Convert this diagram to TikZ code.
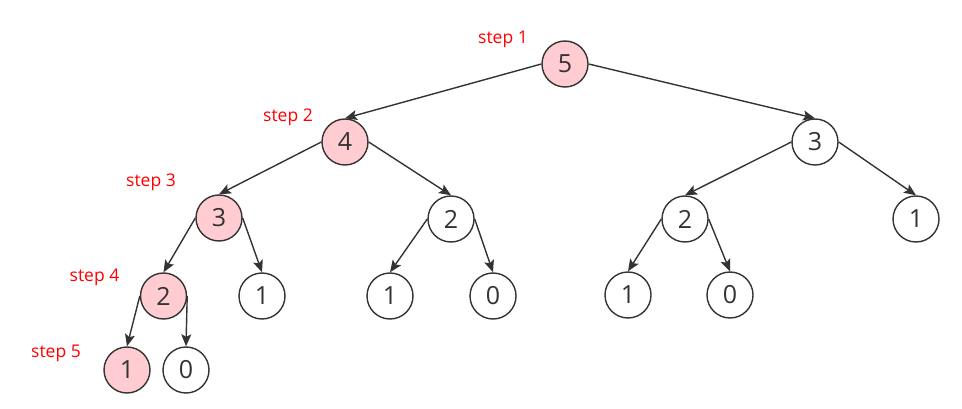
\documentclass[tikz,border=0pt]{standalone}
\usepackage{fontspec}
\setmainfont{Open Sans}
\usetikzlibrary{arrows.meta}
\definecolor{pinkfill}{HTML}{FFCCD2}
\definecolor{stroke}{HTML}{333333}
\definecolor{stepred}{HTML}{FF0000}
\tikzset{
  treenode/.style={circle, draw=stroke, line width=1.4pt, minimum size=46pt, inner sep=0pt, fill=white, text=stroke, font=\fontsize{25}{25}\selectfont},
  hot/.style={treenode, fill=pinkfill},
  edge/.style={draw=stroke, line width=1.4pt, -{Stealth[length=12pt,width=10pt,inset=2.5pt]}},
  steplabel/.style={anchor=base, text=stepred, font=\fontsize{17.5}{17.5}\selectfont, inner sep=0pt}
}
\begin{document}
\begin{tikzpicture}[x=1pt,y=-1pt]
\useasboundingbox (0,0) rectangle (962,409);
% nodes
\node[hot] (n5) at (565,64) {5};
\node[hot] (n4) at (345,142) {4};
\node[treenode] (n3r) at (815,142) {3};
\node[hot] (n3l) at (219,218) {3};
\node[treenode] (n2m) at (451,219) {2};
\node[treenode] (n2r) at (685,219) {2};
\node[treenode] (n1r) at (916,219) {1};
\node[hot] (n2l) at (163.5,296) {2};
\node[treenode] (n1a) at (262,296) {1};
\node[treenode] (n1b) at (390,296) {1};
\node[treenode] (n0b) at (493,296) {0};
\node[treenode] (n1c) at (628,295) {1};
\node[treenode] (n0c) at (730,295) {0};
\node[hot] (n1l) at (127,370) {1};
\node[treenode] (n0l) at (186,370) {0};
% step labels
\node[steplabel] (s1) at (503,44) {step 1};
\node[steplabel] (s2) at (288,122) {step 2};
\node[steplabel] (s3) at (151,186) {step 3};
\node[steplabel] (s4) at (94.5,281) {step 4};
\node[steplabel] (s5) at (56,357) {step 5};
% edges
\draw[edge] (n5.west) -- (n4.north);
\draw[edge] (n5.east) -- (n3r.north);
\draw[edge] (n4.west) -- (n3l.north);
\draw[edge] (n4.east) -- (n2m.north);
\draw[edge] (n3r.west) -- (n2r.north);
\draw[edge] (n3r.east) -- (n1r.north);
\draw[edge] (n3l.west) -- (n2l.north);
\draw[edge] (n3l.east) -- (n1a.north);
\draw[edge] (n2m.west) -- (n1b.north);
\draw[edge] (n2m.east) -- (n0b.north);
\draw[edge] (n2r.west) -- (n1c.north);
\draw[edge] (n2r.east) -- (n0c.north);
\draw[edge] (n2l.west) -- (n1l.north);
\draw[edge] (n2l.east) -- (n0l.north);
\end{tikzpicture}
\end{document}
